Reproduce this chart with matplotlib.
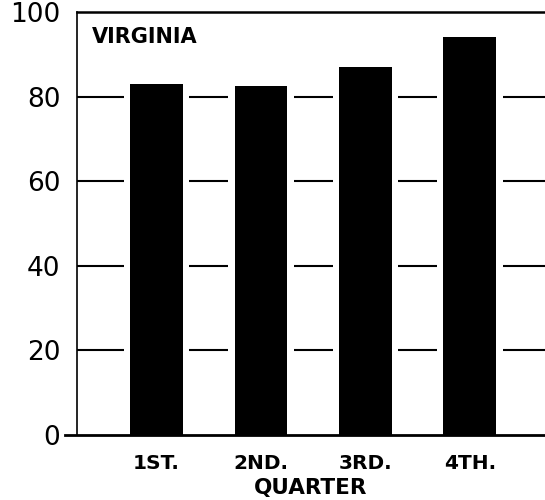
import numpy as np
import matplotlib
matplotlib.use("Agg")
import matplotlib.pyplot as plt

# data
quarters = ["1ST.", "2ND.", "3RD.", "4TH."]
values = [83, 82.5, 87, 94]
yticks = [0, 20, 40, 60, 80, 100]
title = "VIRGINIA"
xlabel = "QUARTER"

fig = plt.figure(figsize=(5.45, 5.0), dpi=100)
ax = fig.add_axes([77/545, 1-435/500, 1-77/545, (435-12)/500])

x = np.arange(len(quarters))

# grid lines, broken around the bars
for v in yticks[1:-1]:
    ax.axhline(v, color="black", lw=1.5, zorder=1)
ax.bar(x, values, width=0.63, color="white", zorder=2)
ax.bar(x, values, width=0.507, color="black", zorder=3)

ax.set_xlim(-0.761, 3.718)
ax.set_ylim(0, 100)

ax.spines["right"].set_visible(False)
ax.spines["bottom"].set_visible(False)
ax.spines["top"].set_linewidth(1.8)
ax.spines["left"].set_linewidth(1.2)
ax.plot([-0.025, 1], [0, 0], transform=ax.transAxes, color="black",
        lw=2.0, clip_on=False, zorder=4)

ax.set_yticks(yticks)
ax.set_yticklabels([str(t) for t in yticks], fontsize=19)
ax.tick_params(axis="y", length=0, pad=12)

ax.set_xticks(x)
ax.set_xticklabels(quarters, fontsize=14.5, fontweight="bold")
ax.tick_params(axis="x", length=0, pad=14)

ax.set_xlabel(xlabel, fontsize=15.5, fontweight="bold", labelpad=3)
ax.text(15/468, 1 - 25/423, title, transform=ax.transAxes,
        fontsize=15, fontweight="bold", va="center", ha="left")

fig.savefig("out.png", dpi=100)
